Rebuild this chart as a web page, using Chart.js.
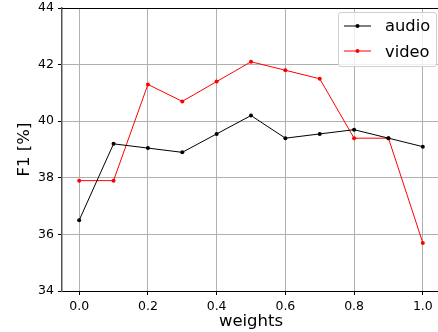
<!DOCTYPE html>
<html>
<head>
<meta charset="utf-8">
<script src="https://cdn.jsdelivr.net/npm/chart.js@4"></script>
<style>
html,body{margin:0;padding:0;background:#fff;}
#wrap{position:relative;width:438px;height:332px;overflow:hidden;}
#c{position:absolute;left:0;top:0;}
#legend{position:absolute;left:338px;top:12px;width:99px;height:55px;border:1px solid #d0d0d0;border-radius:3px;background:rgba(255,255,255,0.8);box-sizing:border-box;padding:0 0 0 5px;}
.row{display:flex;align-items:center;height:25.5px;font-family:'DejaVu Sans',sans-serif;font-size:16.3px;color:#000;white-space:nowrap;}
.row svg{flex:none;width:28px;height:20px;margin-right:13px;}
</style>
</head>
<body>
<div id="wrap">
<canvas id="c" width="444" height="332"></canvas>
<div id="legend"></div>
</div>
<script>
const weights = [0.0, 0.1, 0.2, 0.3, 0.4, 0.5, 0.6, 0.7, 0.8, 0.9, 1.0];
const audio = [36.5, 39.2, 39.05, 38.9, 39.55, 40.2, 39.4, 39.55, 39.7, 39.4, 39.1];
const video = [37.9, 37.9, 41.3, 40.7, 41.4, 42.1, 41.8, 41.5, 39.4, 39.4, 35.7];
const xTicks = [0.0, 0.2, 0.4, 0.6, 0.8, 1.0];
const yTicks = [34, 36, 38, 40, 42, 44];
const seriesNames = ['audio', 'video'];
const seriesColors = ['#000000', '#ff0000'];

const font = "DejaVu Sans";
function pts(arr){ return weights.map((w,i)=>({x:w,y:arr[i]})); }

const spines = {
  id:'spines',
  afterDraw(chart){
    const a = chart.chartArea, ctx = chart.ctx;
    ctx.save();
    ctx.strokeStyle = '#000';
    ctx.lineWidth = 1;
    ctx.beginPath();
    ctx.moveTo(a.left, a.top+0.5); ctx.lineTo(a.right, a.top+0.5);
    ctx.moveTo(a.right-0.5, a.top); ctx.lineTo(a.right-0.5, a.bottom);
    ctx.stroke();
    ctx.restore();
  }
};

new Chart(document.getElementById('c'), {
  type:'line',
  data:{
    datasets:[
      {label:seriesNames[0], data:pts(audio), borderColor:seriesColors[0], backgroundColor:seriesColors[0], borderWidth:1, pointRadius:2, pointBorderWidth:0, pointBackgroundColor:seriesColors[0], tension:0},
      {label:seriesNames[1], data:pts(video), borderColor:seriesColors[1], backgroundColor:seriesColors[1], borderWidth:1, pointRadius:2, pointBorderWidth:0, pointBackgroundColor:seriesColors[1], tension:0}
    ]
  },
  options:{
    responsive:false,
    animation:false,
    layout:{padding:{top:8,right:2,left:0,bottom:0}},
    plugins:{legend:{display:false}, tooltip:{enabled:false}},
    scales:{
      x:{
        type:'linear', min:-0.05, max:1.05,
        afterBuildTicks(s){ s.ticks = xTicks.map(v=>({value:v})); },
        afterFit(s){ s.height = 41; },
        ticks:{font:{family:font,size:12.5}, color:'#000', padding:4, maxRotation:0, callback:v=>v.toFixed(1)},
        grid:{color:'#b0b0b0', lineWidth:1, tickLength:4, tickColor:'#000'},
        border:{color:'#000', width:1},
        title:{display:true, text:'weights', font:{family:font,size:16.5}, color:'#000', padding:{top:0,bottom:0}}
      },
      y:{
        type:'linear', min:34, max:44,
        afterBuildTicks(s){ s.ticks = yTicks.map(v=>({value:v})); },
        afterFit(s){ s.width = 62; s.paddingTop = 0; s.paddingBottom = 0; },
        ticks:{font:{family:font,size:12.5}, color:'#000', padding:4},
        grid:{color:'#b0b0b0', lineWidth:1, tickLength:4, tickColor:'#000'},
        border:{color:'#555', width:1.5},
        title:{display:true, text:'F1 [%]', font:{family:font,size:16.5}, color:'#000', padding:{top:15,bottom:0}}
      }
    }
  },
  plugins:[spines]
});

const lg = document.getElementById('legend');
seriesNames.forEach((n,i)=>{
  const d = document.createElement('div');
  d.className='row';
  d.innerHTML = '<svg viewBox="0 0 28 20"><line x1="0" y1="10" x2="27" y2="10" stroke="'+seriesColors[i]+'" stroke-width="1"/><circle cx="13.5" cy="10" r="2" fill="'+seriesColors[i]+'"/></svg><span>'+n+'</span>';
  lg.appendChild(d);
});
</script>
</body>
</html>
